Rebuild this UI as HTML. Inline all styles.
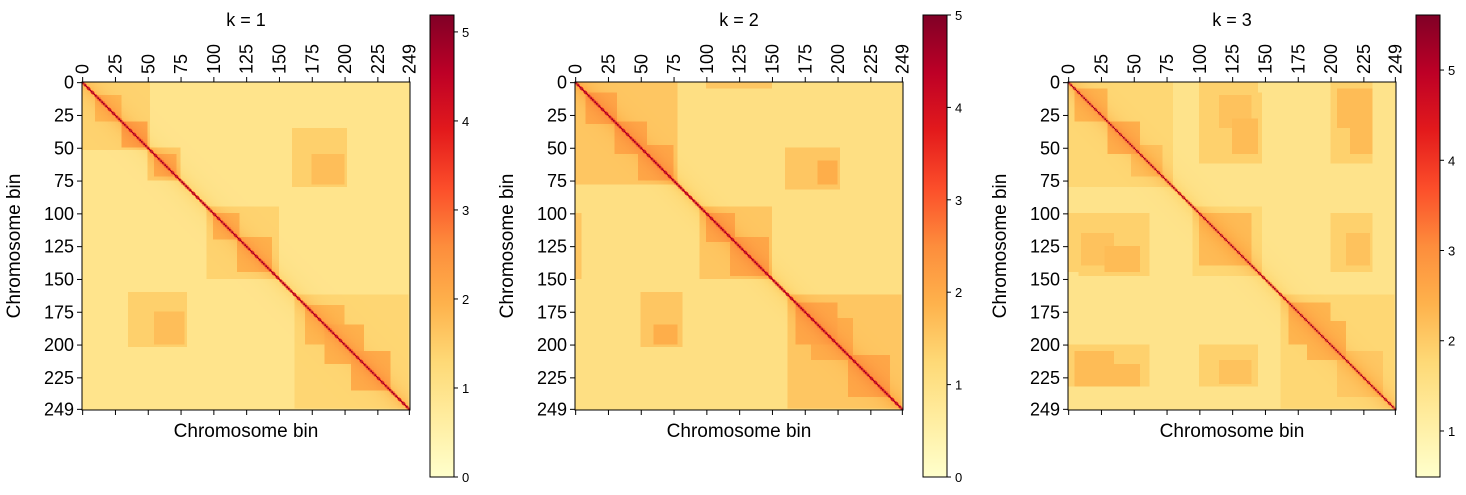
<!DOCTYPE html>
<html><head><meta charset="utf-8">
<style>
body{margin:0;background:#fff;width:1466px;height:495px;overflow:hidden;font-family:"Liberation Sans","DejaVu Sans",sans-serif;}
svg{position:absolute;left:0;top:0;}
canvas{position:absolute;image-rendering:pixelated;}
</style></head>
<body>
<div id="root"></div>
<script>
// ---- data ----
const nBins = 250;
const panelTitles = ["k = 1","k = 2","k = 3"];
const vmins = [0, 0, 0.49];
const vmaxs = [5.19, 5.0, 5.61];
const cbTicks = [[0,1,2,3,4,5],[0,1,2,3,4,5],[1,2,3,4,5]];
const axisTicks = [0,25,50,75,100,125,150,175,200,225,249];
const baseLevel = [0.95, 1.05, 1.45];
const diagValue = [5.0, 4.8, 5.4];
// diagonal domains: [start, end, strength]
const domains1 = [[0,52,0.45],[10,30,0.9],[30,50,1.2],[50,75,0.6],[55,72,1.1],[95,150,0.45],[100,120,1.0],[118,145,1.0],[162,249,0.4],[170,200,0.9],[185,215,1.0],[205,235,1.1]];
const domains2 = [[0,78,0.5],[8,32,1.0],[30,55,1.0],[48,75,1.0],[95,150,0.5],[100,122,1.0],[118,148,1.0],[162,249,0.5],[168,200,1.0],[180,212,0.9],[208,240,1.0]];
const domains3 = [[0,80,0.35],[5,30,0.9],[30,55,1.0],[48,72,0.7],[95,148,0.35],[100,140,0.8],[162,249,0.35],[168,200,0.9],[182,212,0.9],[205,240,0.6]];
// off-diagonal interaction blocks: [rowStart,rowEnd,colStart,colEnd,strength] (mirrored)
const blocks1 = [[35,80,160,202,0.5],[55,78,175,200,0.8]];
const blocks2 = [[50,82,160,202,0.5],[60,78,185,200,0.9],[0,5,100,150,0.5],[110,148,0,5,0.5]];
const blocks3 = [[8,62,100,148,0.45],[28,55,125,145,0.8],[8,62,200,232,0.45],[25,55,215,232,0.8],[100,145,0,62,0.45],[115,140,10,35,0.7],[100,145,200,232,0.45],[115,140,212,230,0.7],[200,232,0,62,0.45],[205,232,5,35,0.8]];
const allDomains = [domains1, domains2, domains3];
const allBlocks = [blocks1, blocks2, blocks3];

// ---- layout ----
const panelX = [82, 575, 1068];
const heatTop = 82, heatSize = 328;
const cbX = [430, 923, 1416], cbW = 24, cbTop = 15, cbBot = 477;

const stops = [[0,[255,255,204]],[0.125,[255,237,160]],[0.25,[254,217,118]],[0.375,[254,178,76]],[0.5,[253,141,60]],[0.625,[252,78,42]],[0.75,[227,26,28]],[0.875,[189,0,38]],[1,[128,0,38]]];
function cmap(t){t=Math.max(0,Math.min(1,t));for(let i=1;i<stops.length;i++){if(t<=stops[i][0]){const a=stops[i-1],b=stops[i];const f=(t-a[0])/(b[0]-a[0]);return a[1].map((c,k)=>Math.round(c+(b[1][k]-c)*f));}}return stops[stops.length-1][1];}

const root=document.getElementById('root');
const NS="http://www.w3.org/2000/svg";
const svg=document.createElementNS(NS,'svg');
svg.setAttribute('width',1466);svg.setAttribute('height',495);
function el(tag,attrs,parent){const e=document.createElementNS(NS,tag);for(const k in attrs)e.setAttribute(k,attrs[k]);(parent||svg).appendChild(e);return e;}

for(let p=0;p<3;p++){
  const cv=document.createElement('canvas');
  cv.width=nBins;cv.height=nBins;
  cv.style.left=panelX[p]+'px';cv.style.top=heatTop+'px';
  cv.style.width=heatSize+'px';cv.style.height=heatSize+'px';
  
  
  const ctx=cv.getContext('2d');const img=ctx.createImageData(nBins,nBins);
  for(let i=0;i<nBins;i++)for(let j=0;j<nBins;j++){
    let extra=0;
    for(const d of allDomains[p]) if(i>=d[0]&&i<d[1]&&j>=d[0]&&j<d[1]) extra=Math.max(extra,d[2]);
    for(const b of allBlocks[p]){
      if((i>=b[0]&&i<b[1]&&j>=b[2]&&j<b[3])||(j>=b[0]&&j<b[1]&&i>=b[2]&&i<b[3])) extra=Math.max(extra,b[4]);
    }
    let v=baseLevel[p]+extra+0.5*Math.exp(-Math.abs(i-j)/8);
    if(i===j) v=diagValue[p];
    else if(Math.abs(i-j)===1) v=Math.max(v,3.4);
    const c=cmap((v-vmins[p])/(vmaxs[p]-vmins[p]));
    const o=(i*nBins+j)*4;img.data[o]=c[0];img.data[o+1]=c[1];img.data[o+2]=c[2];img.data[o+3]=255;
  }
  ctx.putImageData(img,0,0);root.appendChild(cv);

  const g=el('g',{});
  
  
  const x0=panelX[p];
  const sc=v=>x0+(v+0.5)*heatSize/nBins;
  const sy=v=>heatTop+(v+0.5)*heatSize/nBins;
  el('rect',{x:x0,y:heatTop,width:heatSize,height:heatSize,fill:'none',stroke:'#000','stroke-width':1},g);
  for(const t of axisTicks){
    const x=sc(t),y=sy(t);
    el('line',{x1:x,x2:x,y1:heatTop,y2:heatTop-5,stroke:'#000'},g);
    el('line',{x1:x,x2:x,y1:heatTop+heatSize,y2:heatTop+heatSize+5,stroke:'#000'},g);
    el('line',{x1:x0,x2:x0-5,y1:y,y2:y,stroke:'#000'},g);
    const tx=el('text',{x:0,y:0,'font-size':18,transform:`translate(${x+6},${heatTop-8}) rotate(-90)`},g);
    tx.textContent=t;
    const ty=el('text',{x:x0-8,y:y+6,'font-size':18,'text-anchor':'end'},g);
    ty.textContent=t;
  }
  const ti=el('text',{x:x0+heatSize/2,y:26,'font-size':18,'text-anchor':'middle'},g);ti.textContent=panelTitles[p];
  
  const xl=el('text',{x:x0+heatSize/2,y:437,'font-size':19,'text-anchor':'middle'},g);xl.textContent='Chromosome bin';
  
  const yl=el('text',{x:0,y:0,'font-size':19,'text-anchor':'middle',transform:`translate(${x0-62},${heatTop+heatSize/2}) rotate(-90)`},g);yl.textContent='Chromosome bin';
  

  // colorbar
  const cb=el('g',{},g);
  
  
  const gid='grad'+p;
  const lg=el('linearGradient',{id:gid,x1:0,y1:1,x2:0,y2:0},cb);
  for(const s of stops) el('stop',{offset:s[0],'stop-color':`rgb(${s[1].join(',')})`},lg);
  el('rect',{x:cbX[p],y:cbTop,width:cbW,height:cbBot-cbTop,fill:`url(#${gid})`,stroke:'#000','stroke-width':1},cb);
  for(const t of cbTicks[p]){
    const y=cbBot-(t-vmins[p])/(vmaxs[p]-vmins[p])*(cbBot-cbTop);
    el('line',{x1:cbX[p]+cbW,x2:cbX[p]+cbW+4,y1:y,y2:y,stroke:'#000'},cb);
    const tt=el('text',{x:cbX[p]+cbW+8,y:y+5,'font-size':13},cb);tt.textContent=t;
  }
}
root.appendChild(svg);
</script>
</body></html>
